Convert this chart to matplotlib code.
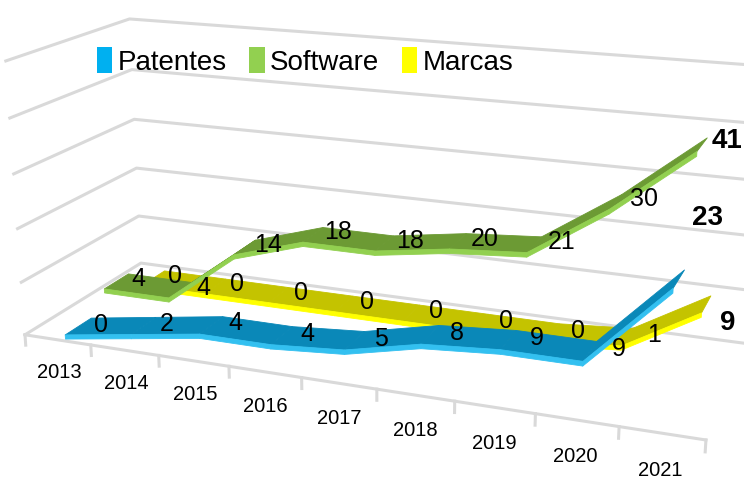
import matplotlib
matplotlib.use('Agg')
import matplotlib.pyplot as plt
from matplotlib.patches import Patch
from mpl_toolkits.mplot3d.art3d import Poly3DCollection

years = ['2013', '2014', '2015', '2016', '2017', '2018', '2019', '2020', '2021']
patentes = [0, 2, 4, 4, 5, 8, 9, 9, 23]
software = [4, 4, 14, 18, 18, 20, 21, 30, 41]
marcas = [0, 0, 0, 0, 0, 0, 0, 1, 9]
series_names = ['Patentes', 'Software', 'Marcas']
grid_levels = [0, 10, 20, 30, 40, 50]

plt.rcParams['font.family'] = ['Liberation Sans', 'DejaVu Sans']

# style per series: depth row, top face, front face, legend colour
depths = [0.5, 1.5, 2.5]
faces = ['#0a88b8', '#6c9a34', '#c4c300']
fronts = ['#33c0f0', '#92d050', '#ffff00']
legend_colors = ['#00b0f0', '#92d050', '#ffff00']
end_offsets = [10.3, 1.0, -3.0]   # z shift of the bold 2021 labels
half_w = 0.32
thick = 0.8
grid_color = '#d9d9d9'

fig = plt.figure(figsize=(7.44, 4.78), dpi=100)
h = 7.44 / 4.78
ax = fig.add_axes([0.003, 0.55 - h / 2, 1, h], projection='3d', computed_zorder=False)
ax.set_axis_off()
ax.set_proj_type('persp', focal_length=0.4)
ax.view_init(elev=17, azim=-69)
n = len(years)
ax.set_xlim(-0.5, n - 0.5)
ax.set_ylim(0, 3)
ax.set_zlim(0, 50)
ax.set_box_aspect((2.95, 1.02, 1.21), zoom=1.04)

# walls
for z in grid_levels:
    ax.plot([-0.5, -0.5, n - 0.5], [0, 3, 3], [z, z, z], color=grid_color, lw=2.2, zorder=1)
ax.plot([-0.5, n - 0.5], [0, 0], [0, 0], color=grid_color, lw=2.2, zorder=1)
for i in range(n + 1):
    ax.plot([i - 0.5, i - 0.5], [0, 0], [0, -2.0], color=grid_color, lw=2.2, zorder=1)
for i, yr in enumerate(years):
    ax.text(i, 0, -6.3, yr, ha='center', va='center', fontsize=14.5, zorder=10)


def ribbon(values, depth, face, front, order):
    top, side = [], []
    for i in range(len(values) - 1):
        a, b = values[i], values[i + 1]
        top.append([(i, depth - half_w, a), (i + 1, depth - half_w, b),
                    (i + 1, depth + half_w, b), (i, depth + half_w, a)])
        side.append([(i, depth - half_w, a), (i + 1, depth - half_w, b),
                     (i + 1, depth - half_w, b - thick), (i, depth - half_w, a - thick)])
    ax.add_collection3d(Poly3DCollection(top, facecolor=face, edgecolor=face, linewidths=0.6, zorder=order))
    ax.add_collection3d(Poly3DCollection(side, facecolor=front, edgecolor=front, linewidths=0.6, zorder=order + 0.5))


all_series = [patentes, software, marcas]
for k in [2, 1, 0]:
    vals = all_series[k]
    ribbon(vals, depths[k], faces[k], fronts[k], 3 - k + 1)
    for i, v in enumerate(vals[:-1]):
        ax.text(i + 0.35, depths[k], v + 1, str(v), ha='center', va='center', fontsize=18, zorder=10)
    ax.text(n - 1 + 0.28, depths[k], vals[-1] + end_offsets[k], str(vals[-1]),
            ha='center', va='center', fontsize=20, fontweight='bold', zorder=10)

handles = [Patch(facecolor=c, edgecolor='none') for c in legend_colors]
fig.legend(handles, series_names, loc='center left', bbox_to_anchor=(0.097, 0.872), ncol=3,
           frameon=False, fontsize=20, handlelength=0.55, handleheight=1.1,
           handletextpad=0.2, columnspacing=0.8)

fig.savefig('out.png', dpi=100)
